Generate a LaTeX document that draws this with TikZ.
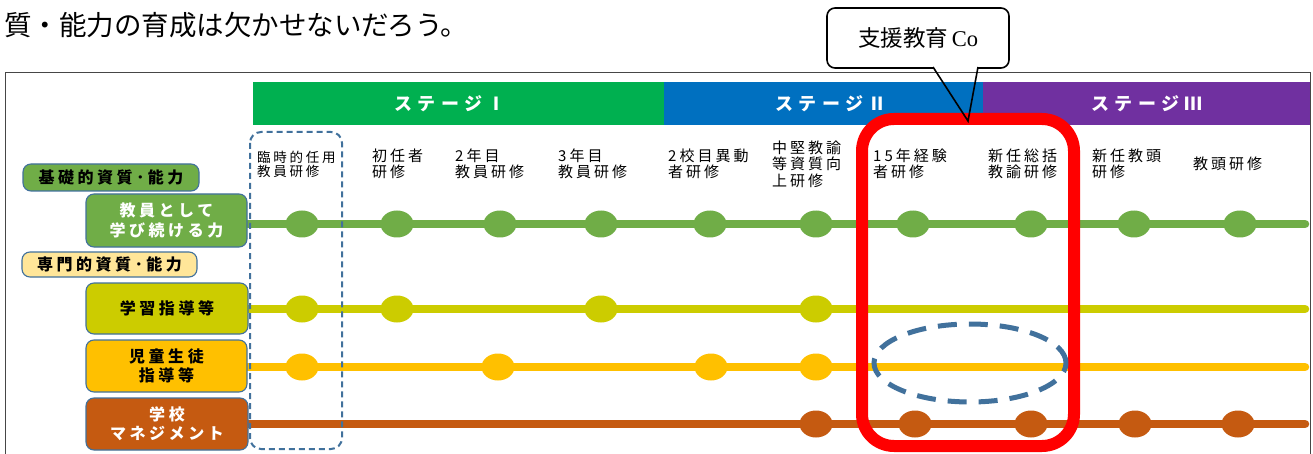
\documentclass[tikz,border=0pt]{standalone}
\usepackage{fontspec}
\usetikzlibrary{shapes.geometric}
\newfontfamily\jp{Noto Sans CJK JP}
\newfontfamily\jpls[LetterSpace=20]{Noto Sans CJK JP}
\newfontfamily\jpbs[LetterSpace=22]{Noto Sans CJK JP}
\newfontfamily\jpst[LetterSpace=30]{Noto Sans CJK JP}
\newfontfamily\coser{Liberation Serif}
\definecolor{sgreen}{RGB}{0,176,80}
\definecolor{sblue}{RGB}{0,112,192}
\definecolor{spurple}{RGB}{112,48,160}
\definecolor{lgreen}{RGB}{112,173,71}
\definecolor{ygreen}{RGB}{204,204,0}
\definecolor{lorange}{RGB}{255,192,0}
\definecolor{brownc}{RGB}{197,90,17}
\definecolor{steel}{RGB}{65,113,156}
\definecolor{lyellow}{RGB}{255,230,153}
\definecolor{framec}{RGB}{70,70,70}
\tikzset{
  track/.style={line width=8.5pt,line cap=round},
  dot/.style={ellipse,inner sep=0pt,minimum width=33pt,minimum height=27pt,draw=none},
  lbox/.style={rounded corners=8pt,draw=steel,line width=1.1pt,inner sep=0pt,align=center},
  collab/.style={anchor=west,inner sep=0pt,align=left,font=\jpls\fontsize{15}{16.5}\selectfont},
  stagelab/.style={inner sep=0pt,text=white,font=\jpst\bfseries\fontsize{18}{20}\selectfont},
  boldlab/.style={font=\jpbs\bfseries\fontsize{16}{19}\selectfont},
}
\begin{document}
\begin{tikzpicture}[x=1pt,y=-1pt]
\useasboundingbox (0,0) rectangle (1313,454);
\fill[white] (0,0) rectangle (1313,454);

% intro text
\node[anchor=west,inner sep=0pt,font=\jp\fontsize{27.5}{30}\selectfont] (intro) at (4,25) {質・能力の育成は欠かせないだろう。};

% callout (fill under the frame)
\node[rounded corners=8pt,draw=black,line width=1.6pt,fill=white,minimum width=182pt,minimum height=60pt,inner sep=0pt] (co) at (918,38)
  {\jp\fontsize{22.5}{24}\selectfont 支援教育\,{\coser Co}};
\coordinate (tipL) at (933,67);
\coordinate (tipR) at (978,67);
\coordinate (tip) at (968,121);
\fill[white] (933,66) -- (978,66) -- (968,121) -- cycle;

% frame
\draw[framec,line width=1pt] (5.5,460) -- (5.5,73) -- (1310,73) -- (1310,460);

% stage bars
\fill[sgreen] (253,82) rectangle (664,125);
\fill[sblue] (664,82) rectangle (983,125);
\fill[spurple] (983,82) rectangle (1310,125);
\node[stagelab] (st1) at (450,104) {ステージⅠ};
\node[stagelab] (st2) at (831,104) {ステージⅡ};
\node[stagelab] (st3) at (1147,104) {ステージⅢ};

% column labels
\node[collab,font=\jpls\fontsize{13.5}{13.8}\selectfont] (c1) at (257,164) {臨時的任用\\教員研修};
\node[collab] (c2) at (372,164) {初任者\\研修};
\node[collab] (c3) at (455,164) {2年目\\教員研修};
\node[collab] (c4) at (558,164) {3年目\\教員研修};
\node[collab] (c5) at (668,164) {2校目異動\\者研修};
\node[collab] (c6) at (772,164) {中堅教諭\\等資質向\\上研修};
\node[collab] (c7) at (873,164) {15年経験\\者研修};
\node[collab] (c8) at (988,164) {新任総括\\教諭研修};
\node[collab] (c9) at (1092,164) {新任教頭\\研修};
\node[collab] (c10) at (1193,164) {教頭研修};

% line end coordinates
\coordinate (gend) at (1305,224);
\coordinate (yend) at (1305,309);
\coordinate (oend) at (1305,367);
\coordinate (bend) at (1305,424);

% left label boxes (category headers)
\node[lbox,fill=lgreen,minimum width=176pt,minimum height=27pt,boldlab] (kiso) at (111,177.5) {基礎的資質･能力};
\node[lbox,fill=lyellow,minimum width=175pt,minimum height=25pt,boldlab] (senmon) at (109.5,264.5) {専門的資質･能力};

% tracks (start at the left edge of each row box)
\coordinate (gstart) at (248,224);
\coordinate (ystart) at (248,309);
\coordinate (ostart) at (248,367);
\coordinate (bstart) at (248,424);
\draw[track,lgreen] (gstart) -- (gend);
\draw[track,ygreen] (ystart) -- (yend);
\draw[track,lorange] (ostart) -- (oend);
\draw[track,brownc] (bstart) -- (bend);

% row boxes
\node[lbox,fill=lgreen,minimum width=161pt,minimum height=53pt,boldlab,text=white,font=\jpbs\bfseries\fontsize{16}{19.5}\selectfont] (kyoin) at (166.5,220.5) {教員として\\学び続ける力};
\node[lbox,fill=ygreen,minimum width=162pt,minimum height=51pt,boldlab] (gaku) at (167,308.5) {学習指導等};
\node[lbox,fill=lorange,minimum width=161pt,minimum height=52pt,boldlab] (jido) at (166.5,366) {児童生徒\\指導等};
\node[lbox,fill=brownc,minimum width=162pt,minimum height=52pt,boldlab,text=white] (mgmt) at (167,424) {学校\\マネジメント};

% dots
\foreach \x [count=\i] in {302,397,500,601,710,816,913,1031,1134,1240}
  \node[dot,fill=lgreen] (g\i) at (\x,224) {};
\foreach \x [count=\i] in {302,397,601,816}
  \node[dot,fill=ygreen] (y\i) at (\x,309) {};
\foreach \x [count=\i] in {302,498,711,816}
  \node[dot,fill=lorange] (o\i) at (\x,367) {};
\foreach \x [count=\i] in {816,915,1031,1135,1238}
  \node[dot,fill=brownc] (b\i) at (\x,424) {};

% dashed rounded rectangle
\draw[steel,line width=2pt,dash pattern=on 6pt off 4pt,rounded corners=11pt] (250,132) rectangle (342,449);

% red rounded rectangle
\draw[red,line width=12pt,rounded corners=32pt] (862,119) rectangle (1074,446);

% dashed ellipse
\node[ellipse,draw=steel,line width=5pt,dash pattern=on 19pt off 12pt,minimum width=192pt,minimum height=78pt,inner sep=0pt] (ell) at (970,363) {};

% callout pointer outline
\draw[black,line width=1.6pt,line join=miter] (tipL) -- (tip) -- (tipR);
\end{tikzpicture}
\end{document}
